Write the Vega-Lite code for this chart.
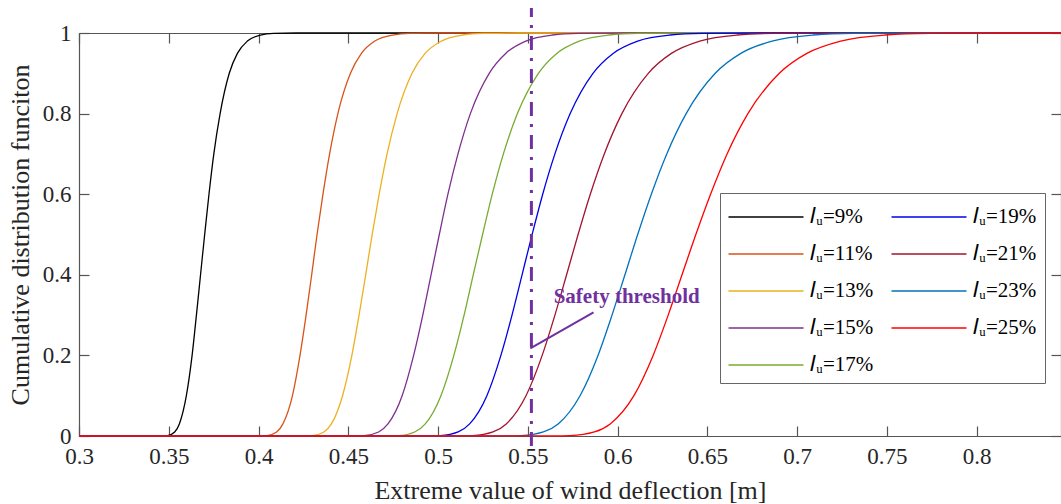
{
  "$schema": "https://vega.github.io/schema/vega-lite/v6.json",
  "width": 982,
  "height": 403,
  "autosize": "none",
  "padding": {"left": 79, "top": 33, "right": 0, "bottom": 68},
  "background": "white",
  "config": {
    "view": {"stroke": null},
    "font": "Liberation Serif",
    "axis": {
      "domainColor": "#555555",
      "domainWidth": 1.2,
      "tickColor": "#555555",
      "tickWidth": 1.2,
      "labelColor": "#262626",
      "titleColor": "#262626",
      "labelFont": "Liberation Serif",
      "titleFont": "Liberation Serif",
      "labelFontSize": 23,
      "titleFontSize": 26,
      "titleFontWeight": "normal",
      "grid": false
    }
  },
  "datasets": {
    "curves": [
      {"s":"9%","x":0.3,"y":0},{"s":"9%","x":0.3464,"y":0.0001},{"s":"9%","x":0.3493,"y":0.001},{"s":"9%","x":0.3533,"y":0.01},{"s":"9%","x":0.3559,"y":0.03},{"s":"9%","x":0.3598,"y":0.1},{"s":"9%","x":0.3630,"y":0.2},{"s":"9%","x":0.3654,"y":0.3},{"s":"9%","x":0.3677,"y":0.4},{"s":"9%","x":0.3700,"y":0.5},{"s":"9%","x":0.3724,"y":0.6},{"s":"9%","x":0.3751,"y":0.7},{"s":"9%","x":0.3786,"y":0.8},{"s":"9%","x":0.3837,"y":0.9},{"s":"9%","x":0.3883,"y":0.95},{"s":"9%","x":0.3938,"y":0.98},{"s":"9%","x":0.4011,"y":0.995},{"s":"9%","x":0.4084,"y":0.999},{"s":"9%","x":0.4210,"y":1},{"s":"9%","x":0.847,"y":1},
      {"s":"11%","x":0.3,"y":0},{"s":"11%","x":0.4008,"y":0.0001},{"s":"11%","x":0.4047,"y":0.001},{"s":"11%","x":0.4101,"y":0.01},{"s":"11%","x":0.4136,"y":0.03},{"s":"11%","x":0.4189,"y":0.1},{"s":"11%","x":0.4231,"y":0.2},{"s":"11%","x":0.4265,"y":0.3},{"s":"11%","x":0.4296,"y":0.4},{"s":"11%","x":0.4326,"y":0.5},{"s":"11%","x":0.4359,"y":0.6},{"s":"11%","x":0.4396,"y":0.7},{"s":"11%","x":0.4442,"y":0.8},{"s":"11%","x":0.4512,"y":0.9},{"s":"11%","x":0.4574,"y":0.95},{"s":"11%","x":0.4648,"y":0.98},{"s":"11%","x":0.4747,"y":0.995},{"s":"11%","x":0.4845,"y":0.999},{"s":"11%","x":0.5014,"y":1},{"s":"11%","x":0.847,"y":1},
      {"s":"13%","x":0.3,"y":0},{"s":"13%","x":0.4252,"y":0.0001},{"s":"13%","x":0.4299,"y":0.001},{"s":"13%","x":0.4364,"y":0.01},{"s":"13%","x":0.4406,"y":0.03},{"s":"13%","x":0.4468,"y":0.1},{"s":"13%","x":0.4520,"y":0.2},{"s":"13%","x":0.4560,"y":0.3},{"s":"13%","x":0.4597,"y":0.4},{"s":"13%","x":0.4633,"y":0.5},{"s":"13%","x":0.4672,"y":0.6},{"s":"13%","x":0.4716,"y":0.7},{"s":"13%","x":0.4772,"y":0.8},{"s":"13%","x":0.4855,"y":0.9},{"s":"13%","x":0.4929,"y":0.95},{"s":"13%","x":0.5018,"y":0.98},{"s":"13%","x":0.5136,"y":0.995},{"s":"13%","x":0.5253,"y":0.999},{"s":"13%","x":0.5456,"y":1},{"s":"13%","x":0.847,"y":1},
      {"s":"15%","x":0.3,"y":0},{"s":"15%","x":0.4528,"y":0.0001},{"s":"15%","x":0.4588,"y":0.001},{"s":"15%","x":0.4669,"y":0.01},{"s":"15%","x":0.4721,"y":0.03},{"s":"15%","x":0.4800,"y":0.1},{"s":"15%","x":0.4864,"y":0.2},{"s":"15%","x":0.4915,"y":0.3},{"s":"15%","x":0.4961,"y":0.4},{"s":"15%","x":0.5007,"y":0.5},{"s":"15%","x":0.5055,"y":0.6},{"s":"15%","x":0.5111,"y":0.7},{"s":"15%","x":0.5180,"y":0.8},{"s":"15%","x":0.5285,"y":0.9},{"s":"15%","x":0.5378,"y":0.95},{"s":"15%","x":0.5489,"y":0.98},{"s":"15%","x":0.5637,"y":0.995},{"s":"15%","x":0.5784,"y":0.999},{"s":"15%","x":0.6038,"y":1},{"s":"15%","x":0.847,"y":1},
      {"s":"17%","x":0.3,"y":0},{"s":"17%","x":0.4713,"y":0.0001},{"s":"17%","x":0.4779,"y":0.001},{"s":"17%","x":0.4870,"y":0.01},{"s":"17%","x":0.4929,"y":0.03},{"s":"17%","x":0.5016,"y":0.1},{"s":"17%","x":0.5088,"y":0.2},{"s":"17%","x":0.5145,"y":0.3},{"s":"17%","x":0.5196,"y":0.4},{"s":"17%","x":0.5248,"y":0.5},{"s":"17%","x":0.5302,"y":0.6},{"s":"17%","x":0.5364,"y":0.7},{"s":"17%","x":0.5442,"y":0.8},{"s":"17%","x":0.5559,"y":0.9},{"s":"17%","x":0.5663,"y":0.95},{"s":"17%","x":0.5787,"y":0.98},{"s":"17%","x":0.5953,"y":0.995},{"s":"17%","x":0.6118,"y":0.999},{"s":"17%","x":0.6402,"y":1},{"s":"17%","x":0.847,"y":1},
      {"s":"19%","x":0.3,"y":0},{"s":"19%","x":0.4940,"y":0.0001},{"s":"19%","x":0.5013,"y":0.001},{"s":"19%","x":0.5112,"y":0.01},{"s":"19%","x":0.5176,"y":0.03},{"s":"19%","x":0.5272,"y":0.1},{"s":"19%","x":0.5350,"y":0.2},{"s":"19%","x":0.5412,"y":0.3},{"s":"19%","x":0.5468,"y":0.4},{"s":"19%","x":0.5524,"y":0.5},{"s":"19%","x":0.5583,"y":0.6},{"s":"19%","x":0.5651,"y":0.7},{"s":"19%","x":0.5736,"y":0.8},{"s":"19%","x":0.5863,"y":0.9},{"s":"19%","x":0.5977,"y":0.95},{"s":"19%","x":0.6112,"y":0.98},{"s":"19%","x":0.6293,"y":0.995},{"s":"19%","x":0.6473,"y":0.999},{"s":"19%","x":0.6783,"y":1},{"s":"19%","x":0.847,"y":1},
      {"s":"21%","x":0.3,"y":0},{"s":"21%","x":0.5108,"y":0.0001},{"s":"21%","x":0.5192,"y":0.001},{"s":"21%","x":0.5306,"y":0.01},{"s":"21%","x":0.5380,"y":0.03},{"s":"21%","x":0.5490,"y":0.1},{"s":"21%","x":0.5580,"y":0.2},{"s":"21%","x":0.5651,"y":0.3},{"s":"21%","x":0.5716,"y":0.4},{"s":"21%","x":0.5780,"y":0.5},{"s":"21%","x":0.5848,"y":0.6},{"s":"21%","x":0.5926,"y":0.7},{"s":"21%","x":0.6024,"y":0.8},{"s":"21%","x":0.6171,"y":0.9},{"s":"21%","x":0.6302,"y":0.95},{"s":"21%","x":0.6458,"y":0.98},{"s":"21%","x":0.6665,"y":0.995},{"s":"21%","x":0.6872,"y":0.999},{"s":"21%","x":0.7229,"y":1},{"s":"21%","x":0.847,"y":1},
      {"s":"23%","x":0.3,"y":0},{"s":"23%","x":0.5369,"y":0.0001},{"s":"23%","x":0.5462,"y":0.001},{"s":"23%","x":0.5587,"y":0.01},{"s":"23%","x":0.5669,"y":0.03},{"s":"23%","x":0.5791,"y":0.1},{"s":"23%","x":0.5891,"y":0.2},{"s":"23%","x":0.5969,"y":0.3},{"s":"23%","x":0.6041,"y":0.4},{"s":"23%","x":0.6112,"y":0.5},{"s":"23%","x":0.6188,"y":0.6},{"s":"23%","x":0.6274,"y":0.7},{"s":"23%","x":0.6382,"y":0.8},{"s":"23%","x":0.6544,"y":0.9},{"s":"23%","x":0.6689,"y":0.95},{"s":"23%","x":0.6861,"y":0.98},{"s":"23%","x":0.7091,"y":0.995},{"s":"23%","x":0.7320,"y":0.999},{"s":"23%","x":0.7715,"y":1},{"s":"23%","x":0.847,"y":1},
      {"s":"25%","x":0.3,"y":0},{"s":"25%","x":0.5636,"y":0.0001},{"s":"25%","x":0.5736,"y":0.001},{"s":"25%","x":0.5871,"y":0.01},{"s":"25%","x":0.5959,"y":0.03},{"s":"25%","x":0.6091,"y":0.1},{"s":"25%","x":0.6198,"y":0.2},{"s":"25%","x":0.6282,"y":0.3},{"s":"25%","x":0.6359,"y":0.4},{"s":"25%","x":0.6436,"y":0.5},{"s":"25%","x":0.6518,"y":0.6},{"s":"25%","x":0.6610,"y":0.7},{"s":"25%","x":0.6726,"y":0.8},{"s":"25%","x":0.6901,"y":0.9},{"s":"25%","x":0.7057,"y":0.95},{"s":"25%","x":0.7243,"y":0.98},{"s":"25%","x":0.7491,"y":0.995},{"s":"25%","x":0.7737,"y":0.999},{"s":"25%","x":0.8162,"y":1},{"s":"25%","x":0.847,"y":1}
    ]
  },
  "layer": [
    {
      "data": {"name": "curves"},
      "mark": {"type": "line", "strokeWidth": 1.3, "interpolate": "monotone"},
      "encoding": {
        "x": {
          "field": "x", "type": "quantitative",
          "scale": {"domain": [0.3, 0.847], "nice": false, "zero": false},
          "axis": {"orient": "bottom", "values": [0.3,0.35,0.4,0.45,0.5,0.55,0.6,0.65,0.7,0.75,0.8], "format": "~g", "title": "Extreme value of wind deflection [m]", "tickSize": -10, "labelPadding": 19, "titlePadding": 9, "labelFlush": false}
        },
        "y": {
          "field": "y", "type": "quantitative",
          "scale": {"domain": [0, 1], "nice": false},
          "axis": {"orient": "left", "values": [0,0.2,0.4,0.6,0.8,1], "format": "~g", "title": "Cumulative distribution funciton", "tickSize": -10, "labelPadding": 18, "titlePadding": 9, "labelFlush": false}
        },
        "color": {
          "field": "s", "type": "nominal",
          "scale": {
            "domain": ["9%","11%","13%","15%","17%","19%","21%","23%","25%"],
            "range": ["#000000","#D95319","#EDB120","#7E2F8E","#77AC30","#0000E6","#A2142F","#0072BD","#FF0000"]
          },
          "legend": {
            "orient": "none", "legendX": 641, "legendY": 160, "columns": 2, "title": null,
            "symbolType": "M-2.5,0H2.5", "symbolSize": 900, "symbolStrokeWidth": 1.5, "symbolOffset": 22,
            "labelFontSize": 21, "labelFont": "Liberation Serif", "labelColor": "#000000",
            "strokeColor": "#666666", "fillColor": "#ffffff", "padding": 8,
            "rowPadding": 11, "columnPadding": 14, "labelOffset": 28,
            "labelExpr": "'𝐼ᵤ=' + datum.label"
          }
        }
      }
    },
    {
      "data": {"values": [{"x": 0.552, "y": -0.025, "y2": 1.062}]},
      "mark": {"type": "rule", "color": "#7030A0", "strokeWidth": 3, "strokeDash": [14, 8, 3, 8]},
      "encoding": {
        "x": {
          "field": "x", "type": "quantitative",
          "scale": {"domain": [0.3, 0.847], "nice": false, "zero": false},
          "axis": {"orient": "top", "values": [0.3,0.35,0.4,0.45,0.5,0.55,0.6,0.65,0.7,0.75,0.8], "labels": false, "title": null, "tickSize": -10}
        },
        "y": {
          "field": "y", "type": "quantitative",
          "scale": {"domain": [0, 1], "nice": false},
          "axis": {"orient": "right", "values": [0,0.2,0.4,0.6,0.8,1], "labels": false, "title": null, "tickSize": -10}
        },
        "y2": {"field": "y2"}
      }
    },
    {
      "data": {"values": [{"x": 0.5514, "y": 0.2176, "x2": 0.5866, "y2": 0.307}]},
      "mark": {"type": "rule", "color": "#7030A0", "strokeWidth": 2},
      "encoding": {
        "x": {"field": "x", "type": "quantitative", "scale": {"domain": [0.3, 0.847], "nice": false, "zero": false}, "axis": null},
        "y": {"field": "y", "type": "quantitative", "scale": {"domain": [0, 1], "nice": false}, "axis": null},
        "x2": {"field": "x2"},
        "y2": {"field": "y2"}
      }
    },
    {
      "data": {"values": [{"x": 0.5644, "y": 0.329, "t": "Safety threshold"}]},
      "mark": {"type": "text", "align": "left", "baseline": "alphabetic", "fontWeight": "bold", "fontSize": 21, "font": "Liberation Serif", "color": "#7030A0"},
      "encoding": {
        "x": {"field": "x", "type": "quantitative", "scale": {"domain": [0.3, 0.847], "nice": false, "zero": false}, "axis": null},
        "y": {"field": "y", "type": "quantitative", "scale": {"domain": [0, 1], "nice": false}, "axis": null},
        "text": {"field": "t"}
      }
    }
  ],
  "resolve": {"axis": {"x": "independent", "y": "independent"}}
}
